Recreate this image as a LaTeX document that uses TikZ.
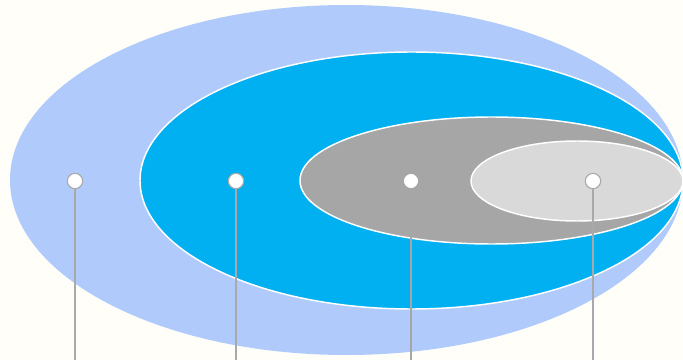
\documentclass[tikz,border=0pt]{standalone}
\usepackage{tikz}

\definecolor{bgcream}{HTML}{FFFEF8}
\definecolor{paleblue}{HTML}{B0CBFB}
\definecolor{skyblue}{HTML}{00B0F0}
\definecolor{midgray}{HTML}{A6A6A6}
\definecolor{lightgray}{HTML}{D9D9D9}
\definecolor{pingray}{HTML}{A9A9A9}

\begin{document}
\begin{tikzpicture}[x=0.75pt,y=0.75pt,yscale=-1,xscale=1,
  ring/.style={draw=white,line width=1.1pt},
  pin/.style={circle,draw=pingray,fill=white,line width=0.8pt,inner sep=0pt,minimum size=11.5pt},
  stem/.style={draw=pingray,line width=1pt}]
%set diagram left start at 0, and has height of 360
\fill[bgcream] (0,0) rectangle (683,360);
\useasboundingbox (0,0) rectangle (683,360);

%Shape: Ellipse [id:outer]
\fill [paleblue] (346.5,180) ellipse [x radius=336.5, y radius=175];
%Shape: Ellipse [id:blue]
\draw [ring,fill=skyblue] (411.5,180.5) ellipse [x radius=271.5, y radius=128.5];
%Shape: Ellipse [id:gray]
\draw [ring,fill=midgray] (491.5,180.5) ellipse [x radius=191.5, y radius=63.5];
%Shape: Ellipse [id:lightgray]
\draw [ring,fill=lightgray] (577,181) ellipse [x radius=106, y radius=40];

% Pins
\node (p1) [pin] at (75,181) {};
\node (p2) [pin] at (236,181) {};
\node (p3) [pin,draw=midgray] at (411,181) {};
\node (p4) [pin] at (593,181) {};

\coordinate (e1) at (75,360);
\coordinate (e2) at (236,360);
\coordinate (e3) at (411,360);
\coordinate (e4) at (593,360);

%Straight Lines
\draw [stem] (p1) -- (e1) ;
\draw [stem] (p2) -- (e2) ;
\draw [stem,draw=midgray] (p3) -- (e3) ;
\draw [stem] (p4) -- (e4) ;

\end{tikzpicture}
\end{document}
